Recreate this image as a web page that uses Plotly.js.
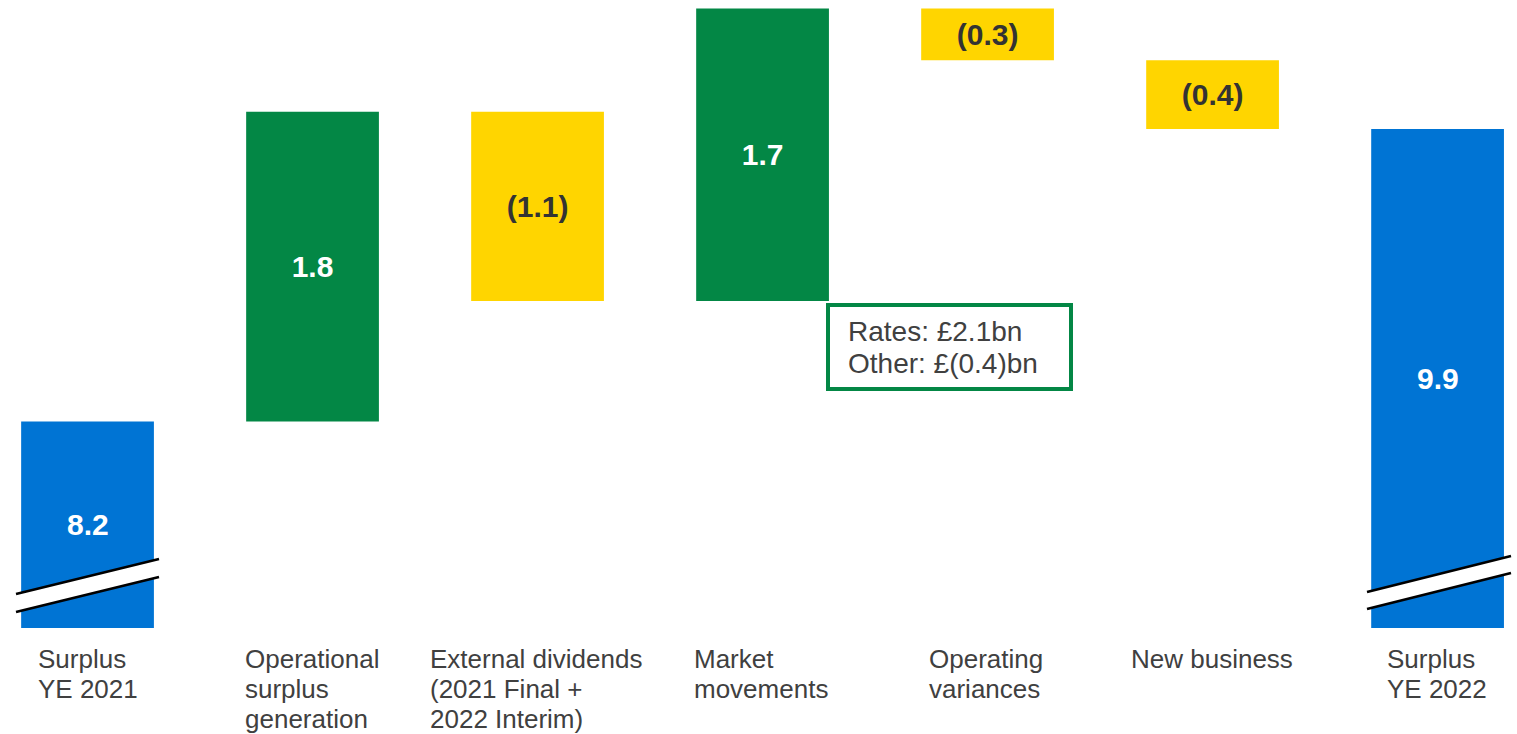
<!DOCTYPE html>
<html><head><meta charset="utf-8">
<script src="https://cdn.plot.ly/plotly-3.0.1.min.js"></script>
<style>html,body{margin:0;padding:0;background:#fff;}#chart{width:1517px;height:734px;}</style>
</head><body><div id="chart"></div>
<script>
// ---- data ----
const categories = ["Surplus<br>YE 2021", "Operational<br>surplus<br>generation", "External dividends<br>(2021 Final +<br>2022 Interim)", "Market<br>movements", "Operating<br>variances", "New business", "Surplus<br>YE 2022"];
const measures = ["absolute", "relative", "relative", "relative", "relative", "relative", "total"];
const values = [8.2, 1.8, -1.1, 1.7, -0.3, -0.4, 9.9];
const marketNote = ["Rates: £2.1bn", "Other: £(0.4)bn"];

// ---- styles ----
const W = 1517, H = 734, PLOT_H = 628;
const Y_RANGE = [7.0, 10.65]; // broken axis: bottom of visible range
const BLUE = "#0074D4", GREEN = "#038745", YELLOW = "#FFD500", DARK = "#333333", LABEL = "#404040";
const FONT = "Liberation Sans, Arial, sans-serif";
const labelLeft = [38, 245, 430, 694, 929, 1131, 1387]; // left edge of category label (px)
const px2x = p => p / W;
const px2y = p => 1 - p / PLOT_H;

const fmt = v => v < 0 ? "(" + Math.abs(v).toFixed(1) + ")" : v.toFixed(1);
const isStartOrTotal = i => measures[i] === "absolute" || measures[i] === "total";
const textColors = values.map((v, i) => (measures[i] === "relative" && v < 0) ? DARK : "#ffffff");

const trace = {
  type: "waterfall",
  x: categories,
  y: values,
  measure: measures,
  text: values.map(fmt),
  textinfo: "text",
  textposition: values.map((v, i) => isStartOrTotal(i) ? "none" : "inside"),
  insidetextanchor: "middle",
  textfont: {family: FONT, size: 30, weight: "bold", color: textColors},
  constraintext: "none",
  increasing: {marker: {color: GREEN}},
  decreasing: {marker: {color: YELLOW}},
  totals: {marker: {color: BLUE}},
  connector: {visible: false},
  hoverinfo: "skip",
  cliponaxis: true
};

const annotations = [];
// labels for the broken (clipped) start / total bars: centred on the visible part
values.forEach((v, i) => {
  if (!isStartOrTotal(i)) return;
  annotations.push({
    xref: "x", yref: "y", x: categories[i], y: (Y_RANGE[0] + v) / 2,
    xanchor: "center", yanchor: "middle",
    text: fmt(v), showarrow: false,
    font: {family: FONT, size: 30, weight: "bold", color: "#ffffff"}
  });
});
categories.forEach((c, i) => {
  const centerPx = 87.5 + 225 * i;
  c.split("<br>").forEach((line, j) => {
    annotations.push({
      xref: "x", yref: "paper", x: c, y: 0,
      xanchor: "left", yanchor: "middle",
      xshift: labelLeft[i] - centerPx - 2,
      yshift: -(31 + 30 * j),
      text: line, showarrow: false,
      font: {family: FONT, size: 26, color: LABEL}
    });
  });
});
marketNote.forEach((line, j) => {
  annotations.push({
    xref: "paper", yref: "paper", x: px2x(846), y: px2y(331 + 32 * j),
    xanchor: "left", yanchor: "middle",
    text: line, showarrow: false,
    font: {family: FONT, size: 28, color: LABEL}
  });
});

function breakShapes(x0, x1, yTop0, yTop1, gap) {
  const P = (x, y) => px2x(x) + "," + px2y(y);
  return [
    {type: "path", xref: "paper", yref: "paper", layer: "above",
     path: "M" + P(x0, yTop0) + " L" + P(x1, yTop1) + " L" + P(x1, yTop1 + gap) + " L" + P(x0, yTop0 + gap) + " Z",
     fillcolor: "#ffffff", line: {width: 0}},
    {type: "line", xref: "paper", yref: "paper", layer: "above",
     x0: px2x(x0), y0: px2y(yTop0), x1: px2x(x1), y1: px2y(yTop1), line: {color: "#000000", width: 2.5}},
    {type: "line", xref: "paper", yref: "paper", layer: "above",
     x0: px2x(x0), y0: px2y(yTop0 + gap), x1: px2x(x1), y1: px2y(yTop1 + gap), line: {color: "#000000", width: 2.5}}
  ];
}

const shapes = [
  {type: "rect", xref: "paper", yref: "paper", layer: "above",
   x0: px2x(828), x1: px2x(1071), y0: px2y(305), y1: px2y(389),
   line: {color: GREEN, width: 4}, fillcolor: "rgba(255,255,255,0)"},
  ...breakShapes(16, 159, 594, 559, 18),
  ...breakShapes(1367, 1511, 592, 556, 17)
];

const layout = {
  width: W, height: H,
  margin: {l: 0, r: 0, t: 0, b: H - PLOT_H, pad: 0},
  paper_bgcolor: "#ffffff", plot_bgcolor: "#ffffff",
  showlegend: false,
  waterfallgap: 0.41,
  xaxis: {type: "category", range: [-0.389, 6.353], showticklabels: false, showgrid: false, zeroline: false, showline: false, ticks: ""},
  yaxis: {range: Y_RANGE, visible: false, showgrid: false, zeroline: false},
  annotations: annotations,
  shapes: shapes,
  font: {family: FONT}
};

Plotly.newPlot("chart", [trace], layout, {displayModeBar: false, staticPlot: true});
</script>
</body></html>
